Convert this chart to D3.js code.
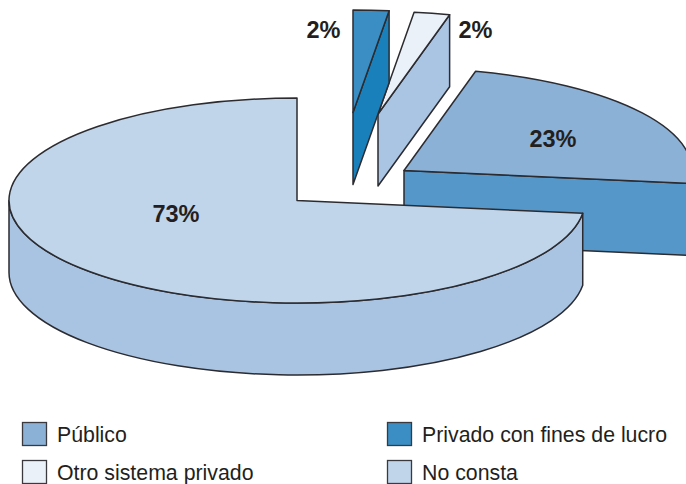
<!DOCTYPE html>
<html>
<head>
<meta charset="utf-8">
<script src="https://cdn.jsdelivr.net/npm/d3@7/dist/d3.min.js"></script>
<style>
html,body{margin:0;padding:0;background:#fff}
svg{display:block}
text{font-family:"Liberation Sans",Arial,sans-serif;fill:#231f20}
</style>
</head>
<body>
<svg id="c" width="686" height="484"></svg>
<script>
const categories = ["Privado con fines de lucro", "Otro sistema privado", "Público", "No consta"];
const values = [2, 2, 23, 73];
const topColors = ["#3b8ec3", "#ebf1f9", "#8bb1d7", "#c0d5ea"];
const sideColors = ["#1a80bb", "#a9c5e3", "#5597c8", "#a8c4e2"];
const offsetsX = [56, 81, 107, 0];
const offsetsY = [-88, -86.5, -30, 0];
const labelX = [323.5, 475.5, 553, 176];
const labelY = [30, 30, 139, 214];
const legendCols = [22, 387];
const legendRows = [434, 472];
const legendOrder = ["Público", "Privado con fines de lucro", "Otro sistema privado", "No consta"];

const svg = d3.select("#c");
const cx = 297, cy = 200.5, rx = 288, ry = 102.5, depth = 72;
const stroke = "#2b2b30", sw = 1.5;

const sx = d3.scaleLinear().domain([-1, 1]).range([cx - rx, cx + rx]);
const sy = d3.scaleLinear().domain([-1, 1]).range([cy - ry, cy + ry]);
const arcs = d3.pie().sort(null).value(d => d)(values);

function pt(a, i, dz = 0) {
  return [sx(Math.sin(a)) + offsetsX[i], sy(-Math.cos(a)) + offsetsY[i] + dz];
}
function topPath(d, i) {
  const c = [sx(0) + offsetsX[i], sy(0) + offsetsY[i]];
  const a = pt(d.startAngle, i), b = pt(d.endAngle, i);
  const large = d.endAngle - d.startAngle > Math.PI ? 1 : 0;
  return `M${c}L${a}A${rx},${ry} 0 ${large} 1 ${b}Z`;
}
function cutPath(a, i) {
  const c = [sx(0) + offsetsX[i], sy(0) + offsetsY[i]];
  const b = pt(a, i);
  return `M${c}L${b}L${b[0]},${b[1] + depth}L${c[0]},${c[1] + depth}Z`;
}
function rimPath(a0, a1, i) {
  const a = pt(a0, i), b = pt(a1, i);
  return `M${a}A${rx},${ry} 0 0 1 ${b}L${b[0]},${b[1] + depth}A${rx},${ry} 0 0 0 ${a[0]},${a[1] + depth}Z`;
}

const g = svg.append("g").attr("stroke", stroke).attr("stroke-width", sw).attr("stroke-linejoin", "round");

// Público
g.append("path").attr("d", cutPath(arcs[2].endAngle, 2)).attr("fill", sideColors[2]);
g.append("path").attr("d", topPath(arcs[2], 2)).attr("fill", topColors[2]);
// Otro sistema privado
g.append("path").attr("d", cutPath(arcs[1].endAngle, 1)).attr("fill", sideColors[1]);
g.append("path").attr("d", topPath(arcs[1], 1)).attr("fill", topColors[1]);
// Privado con fines de lucro
g.append("path").attr("d", cutPath(arcs[0].endAngle, 0)).attr("fill", sideColors[0]);
g.append("path").attr("d", topPath(arcs[0], 0)).attr("fill", topColors[0]);
// No consta
g.append("path").attr("d", rimPath(arcs[3].startAngle, 1.5 * Math.PI, 3)).attr("fill", sideColors[3]);
g.append("path").attr("d", topPath(arcs[3], 3)).attr("fill", topColors[3]);

svg.selectAll("text.pct").data(values).join("text")
  .attr("class", "pct")
  .attr("x", (d, i) => labelX[i]).attr("y", (d, i) => labelY[i])
  .attr("dy", "0.36em")
  .attr("text-anchor", "middle")
  .attr("font-size", 23.5).attr("font-weight", "bold")
  .text(d => d + "%");

const leg = svg.selectAll("g.leg").data(legendOrder).join("g")
  .attr("class", "leg")
  .attr("transform", (d, i) => `translate(${legendCols[i % 2]},${legendRows[Math.floor(i / 2)]})`);
leg.append("rect").attr("x", 0.5).attr("y", -11.5).attr("width", 24).attr("height", 23)
  .attr("fill", d => topColors[categories.indexOf(d)])
  .attr("stroke", "#3a3a3e").attr("stroke-width", 1.3);
leg.append("text").attr("x", 35).attr("y", 0).attr("dy", "0.36em")
  .attr("font-size", 21.3).text(d => d);
</script>
</body>
</html>
